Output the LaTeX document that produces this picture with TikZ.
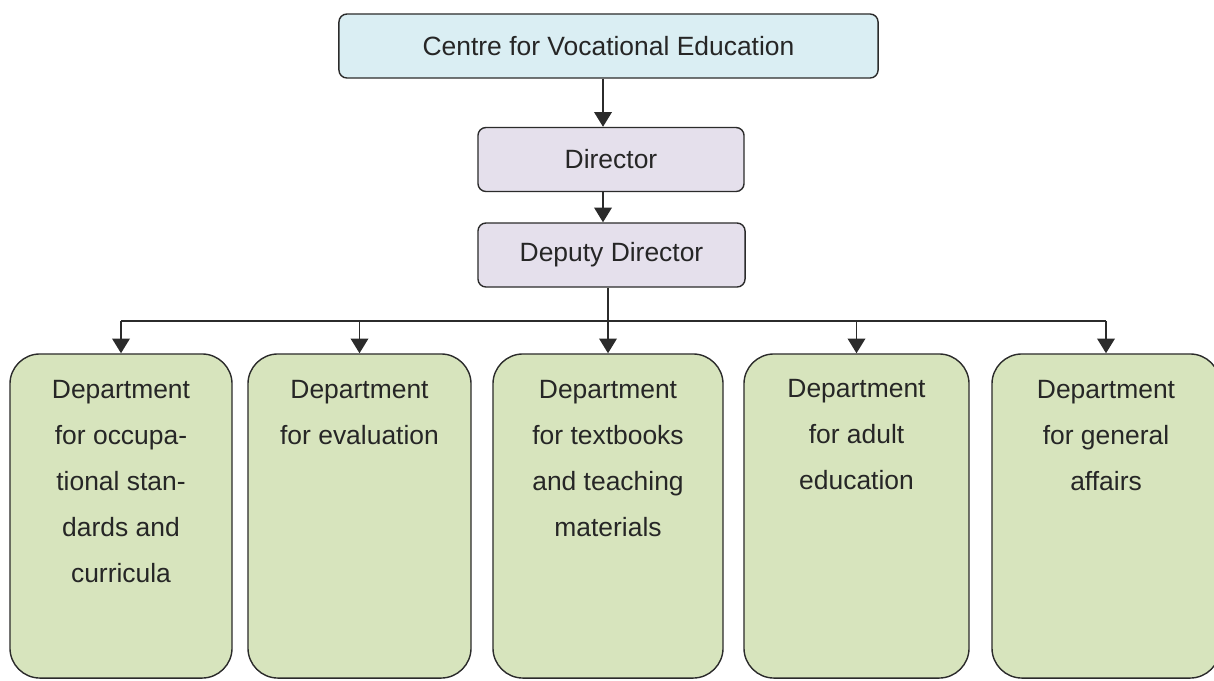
\documentclass[tikz,border=0pt]{standalone}
\usepackage{fontspec}
\setmainfont{Liberation Sans}
\usetikzlibrary{arrows.meta}

\definecolor{cvefill}{HTML}{DAEEF3}
\definecolor{dirfill}{HTML}{E5E0EC}
\definecolor{deptfill}{HTML}{D7E4BD}
\definecolor{edge}{HTML}{2B2B2B}
\definecolor{ink}{HTML}{262626}

\tikzset{
	box/.style={draw=edge, line width=1pt, rounded corners=0.2cm, minimum height=1.6cm,
		inner sep=0pt, text=ink, font=\fontsize{18.8}{32.7}\selectfont},
	dept/.style={box, fill=deptfill, rounded corners=0.75cm, minimum height=8.1cm},
	depttext/.style={anchor=north, align=center, inner sep=0pt, text=ink,
		font=\fontsize{18.8}{32.7}\selectfont},
	wire/.style={draw=edge, line width=1.4pt},
	arr/.style={wire, -{Triangle[width=12.5pt,length=10.5pt]}}
}

\begin{document}
\begin{tikzpicture}[x=0.025cm, y=-0.025cm]
		\useasboundingbox (0,0) rectangle (1214,680);

		% upper boxes
		\node[box, fill=cvefill, minimum width=13.475cm] (cve) at (608.5,46) {Centre for Vocational Education};
		\node[box, fill=dirfill, minimum width=6.65cm] (dir) at (611,159.5) {Director};
		\node[box, fill=dirfill, minimum width=6.675cm] (dep) at (611.5,255) {Deputy Director};

		% departments
		\node[dept, minimum width=5.55cm] (d1) at (121,516) {};
		\node[dept, minimum width=5.575cm] (d2) at (359.5,516) {};
		\node[dept, minimum width=5.75cm] (d3) at (608,516) {};
		\node[dept, minimum width=5.625cm] (d4) at (856.5,516) {};
		\node[dept, minimum width=5.7cm] (d5) at (1106,516) {};

		\node[depttext] (t1) at ([yshift=-0.675cm]d1.north) {Department\\for occupa-\\tional stan-\\dards and\\curricula};
		\node[depttext] (t2) at ([yshift=-0.675cm]d2.north) {Department\\for evaluation};
		\node[depttext] (t3) at ([yshift=-0.675cm]d3.north) {Department\\for textbooks\\and teaching\\materials};
		\node[depttext] (t4) at ([yshift=-0.65cm]d4.north) {Department\\for adult\\education};
		\node[depttext] (t5) at ([yshift=-0.675cm]d5.north) {Department\\for general\\affairs};

		% connectors
		\coordinate (axis) at (603,0);
		\coordinate (bus) at (0,321);
		\draw[arr] (cve.south -| axis) -- (dir.north -| axis);
		\draw[arr] (dir.south -| axis) -- (dep.north -| axis);
		\draw[wire] (dep.south -| d3.north) -- (d3.north |- bus);
		\draw[wire] (d1.north |- bus) -- (d5.north |- bus);
		\foreach \i in {1,...,5}
			\draw[arr] (d\i.north |- bus) -- (d\i.north);

	\end{tikzpicture}
\end{document}
